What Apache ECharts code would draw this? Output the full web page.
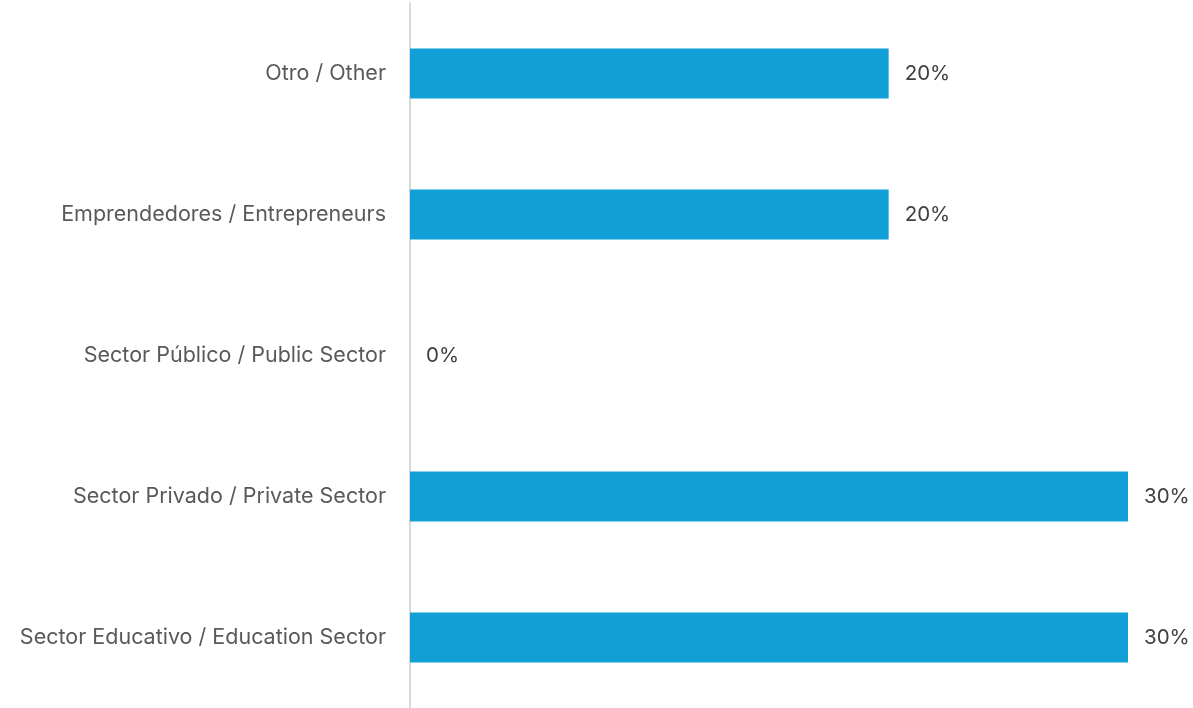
<!DOCTYPE html>
<html>
<head>
<meta charset="utf-8">
<script src="https://cdn.jsdelivr.net/npm/echarts@6/dist/echarts.min.js"></script>
<style>
  html, body { margin: 0; padding: 0; background: #fff; }
  #chart { width: 1193px; height: 708px; }
</style>
</head>
<body>
<div id="chart"></div>
<script>
// categories listed bottom to top (category axis on y starts at bottom)
var categories = [
    'Sector Educativo / Education Sector',
    'Sector Privado / Private Sector',
    'Sector Público / Public Sector',
    'Emprendedores / Entrepreneurs',
    'Otro / Other'
];
var values = [30, 30, 0, 20, 20];

var chart = echarts.init(document.getElementById('chart'));

var option = {
    backgroundColor: '#ffffff',
    animation: false,
    textStyle: { fontFamily: 'Inter' },
    grid: {
        left: 410,
        right: 65,
        top: 3,
        bottom: -5,
        containLabel: false
    },
    xAxis: {
        type: 'value',
        min: 0,
        max: 30,
        show: false
    },
    yAxis: {
        type: 'category',
        data: categories,
        axisLine: { show: true, lineStyle: { color: '#d9d9d9', width: 2 } },
        axisTick: { show: false },
        axisLabel: {
            color: '#595959',
            fontSize: 21.5,
            margin: 24
        }
    },
    series: [{
        type: 'bar',
        data: values,
        barWidth: 50,
        itemStyle: { color: '#119fd6' },
        label: {
            show: true,
            position: 'right',
            distance: 16,
            color: '#404040',
            fontSize: 20.5,
            formatter: '{c}%'
        }
    }]
};
chart.setOption(option);
</script>
</body>
</html>
